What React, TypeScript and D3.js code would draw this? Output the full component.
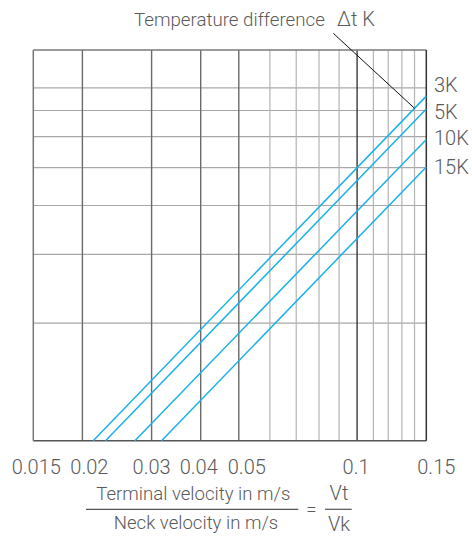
import React from "react";
import * as d3 from "d3";

// ---- data ----
const xMinorTicks = [0.06, 0.07, 0.08, 0.09, 0.11, 0.12, 0.13, 0.14];
const xMajorTicks = [0.02, 0.03, 0.04, 0.05];
const xDarkTicks = [0.1];
const xLabelTicks = [0.015, 0.02, 0.03, 0.04, 0.05, 0.1, 0.15];
const yGridTicks = [2, 3, 4, 5, 6, 7, 8];
const seriesNames = ["3K", "5K", "10K", "15K"];
const seriesStartX = [0.0213, 0.0229, 0.0272, 0.0318]; // at y = 1
const seriesEndY = [7.62, 7.06, 5.9, 5.02]; // at x = 0.15

const W = 472;
const H = 540;
const left = 33.3, right = 426.3, top = 50, bottom = 440.7;

const labelDx: Record<string, number> = { "0.015": 3, "0.02": 7, "0.03": 0, "0.04": -2, "0.05": 8, "0.1": -1, "0.15": 10 };
const seriesLabelDy: Record<string, number> = { "3K": -4.4, "5K": 9.6, "10K": 5.7, "15K": 6.7 };

const FONT = "Roboto, 'Liberation Sans', sans-serif";
const TXT = "#5a5a5a";
const BLUE = "#19b1e8";

export default function App() {
  const x = d3.scaleLog().domain([0.015, 0.15]).range([left, right]);
  const y = d3.scaleLog().domain([1, 10]).range([bottom, top]);
  const line = d3.line<[number, number]>().x(d => x(d[0])).y(d => y(d[1]));
  const series = seriesNames.map((n, i) => ({
    name: n,
    pts: [[seriesStartX[i], 1], [0.15, seriesEndY[i]]] as [number, number][],
  }));
  // leader point on 3K line at x = 0.14
  const s0 = series[0].pts;
  const slope = (Math.log10(s0[1][1]) - Math.log10(s0[0][1])) / (Math.log10(s0[1][0]) - Math.log10(s0[0][0]));
  const leadX = 0.14;
  const leadY = Math.pow(10, Math.log10(s0[1][1]) - slope * (Math.log10(0.15) - Math.log10(leadX)));
  const fmt = (v: number) => String(v);

  return (
    <svg width={W} height={H} style={{ position: "absolute", left: 0, top: 0, background: "#fff" }} fontFamily={FONT}>
      {/* horizontal grid */}
      {yGridTicks.map(t => (
        <line key={"h" + t} x1={left} x2={right} y1={y(t)} y2={y(t)} stroke="#a8a8a8" strokeWidth={1.2} />
      ))}
      {xMinorTicks.map(t => (
        <line key={"m" + t} x1={x(t)} x2={x(t)} y1={top} y2={bottom} stroke="#b4b4b4" strokeWidth={1.2} />
      ))}
      {xMajorTicks.map(t => (
        <line key={"M" + t} x1={x(t)} x2={x(t)} y1={top} y2={bottom} stroke="#6a6a6a" strokeWidth={1.4} />
      ))}
      {xDarkTicks.map(t => (
        <line key={"D" + t} x1={x(t)} x2={x(t)} y1={top} y2={bottom} stroke="#2a2a2a" strokeWidth={1.3} />
      ))}
      {/* frame */}
      <line x1={left} x2={right} y1={top} y2={top} stroke="#7a7a7a" strokeWidth={1.5} />
      <line x1={left} x2={right} y1={bottom} y2={bottom} stroke="#555" strokeWidth={1.5} />
      <line x1={left} x2={left} y1={top} y2={bottom} stroke="#777" strokeWidth={1.5} />
      <line x1={right} x2={right} y1={top} y2={bottom} stroke="#333" strokeWidth={1.5} />

      {/* series */}
      {series.map(s => (
        <path key={s.name} d={line(s.pts) || ""} fill="none" stroke={BLUE} strokeWidth={1.5} />
      ))}
      {series.map(s => (
        <text key={"l" + s.name} x={434} y={y(s.pts[1][1]) + seriesLabelDy[s.name]} fontSize={20} fontWeight={300} fill={TXT}>
          {s.name}
        </text>
      ))}

      {/* leader */}
      <line x1={333.3} y1={33.3} x2={x(leadX)} y2={y(leadY)} stroke="#111" strokeWidth={1} />
      <text x={134} y={26} fontSize={18.7} fontWeight={300} fill={TXT}>Temperature difference</text>
      <text x={337} y={26} fontSize={20} fontWeight={300} fill={TXT}>Δt K</text>

      {/* x tick labels */}
      {xLabelTicks.map(t => (
        <text key={"t" + t} x={x(t) + (labelDx[fmt(t)] || 0)} y={474.3} textAnchor="middle" fontSize={20} fontWeight={300} fill={TXT}>
          {fmt(t)}
        </text>
      ))}

      {/* axis label fraction */}
      <text x={193.3} y={500} textAnchor="middle" fontSize={18.6} fontWeight={300} fill={TXT}>Terminal velocity in m/s</text>
      <line x1={86} x2={298.3} y1={509.3} y2={509.3} stroke="#555" strokeWidth={1.2} />
      <text x={196} y={529} textAnchor="middle" fontSize={18.6} fontWeight={300} fill={TXT}>Neck velocity in m/s</text>
      <text x={311.3} y={516} textAnchor="middle" fontSize={18.6} fontWeight={300} fill={TXT}>=</text>
      <text x={339} y={500} textAnchor="middle" fontSize={20} fontWeight={300} fill={TXT}>Vt</text>
      <line x1={325} x2={351.7} y1={509.3} y2={509.3} stroke="#555" strokeWidth={1.2} />
      <text x={339} y={531} textAnchor="middle" fontSize={20} fontWeight={300} fill={TXT}>Vk</text>
    </svg>
  );
}
